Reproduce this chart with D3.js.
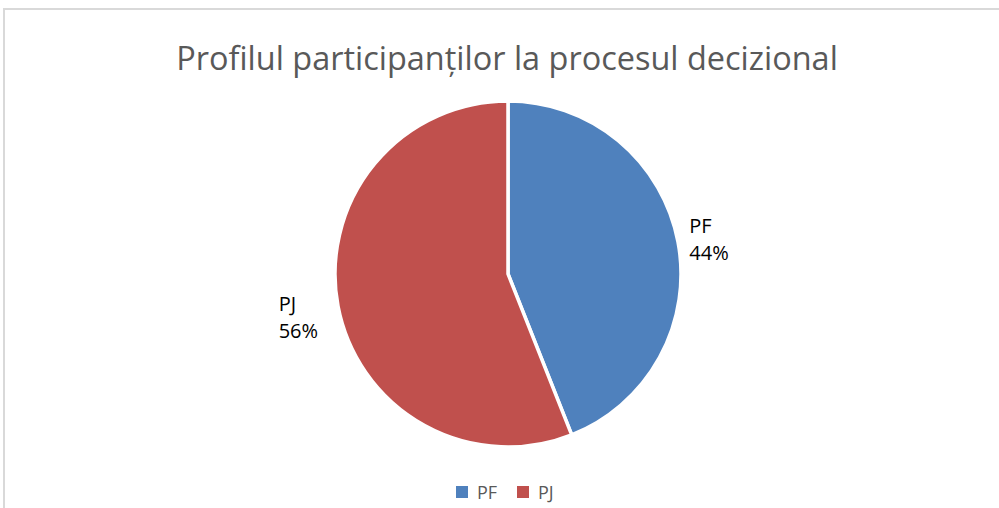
<!DOCTYPE html>
<html lang="ro">
<head>
<meta charset="UTF-8">
<title>Profilul participanților la procesul decizional</title>
<script src="https://d3js.org/d3.v7.min.js"></script>
<style>
  body { margin: 0; background: #fff; }
  svg { display: block; }
</style>
</head>
<body>
<svg id="chart" width="999" height="508"></svg>
<script>
// chart data
const categories = ["PF", "PJ"];
const values = [44, 56];
const colors = ["#4F81BD", "#C0504D"];
const title = "Profilul participanților la procesul decizional";

const svg = d3.select("#chart");
const font = "'Open Sans', 'Noto Sans', sans-serif";

// outer chart border
svg.append("rect")
  .attr("x", 4).attr("y", 9)
  .attr("width", 1000).attr("height", 520)
  .attr("fill", "#fff")
  .attr("stroke", "#d9d9d9")
  .attr("stroke-width", 2);

// title, fitted to the reference width
const titleText = svg.append("text")
  .attr("x", 507).attr("y", 70)
  .attr("text-anchor", "middle")
  .attr("font-family", font)
  .attr("font-size", 30)
  .attr("fill", "#595959")
  .text(title);
const tw = titleText.node().getComputedTextLength();
titleText.attr("font-size", 30 * 662 / tw);

// pie
const cx = 508, cy = 274, radius = 173;
const pie = d3.pie().sort(null).value(d => d);
const arc = d3.arc().innerRadius(0).outerRadius(radius);
const arcs = pie(values);

const g = svg.append("g").attr("transform", `translate(${cx},${cy})`);
g.selectAll("path")
  .data(arcs)
  .enter()
  .append("path")
  .attr("d", arc)
  .attr("fill", (d, i) => colors[i])
  .attr("stroke", "#fff")
  .attr("stroke-width", 3.5)
  .attr("stroke-linejoin", "miter");

// data labels outside the pie: category on one line, percent below
const labelArc = d3.arc().innerRadius(radius + 35).outerRadius(radius + 35);
const total = d3.sum(values);
const labels = g.selectAll(".label")
  .data(arcs)
  .enter()
  .append("g")
  .attr("class", "label")
  .attr("transform", d => {
    const mid = (d.startAngle + d.endAngle) / 2;
    const [lx, ly] = labelArc.centroid(d);
    const x = Math.sin(mid) > 0 ? lx - 23 : lx - 25;
    return `translate(${x},${ly})`;
  });
labels.append("text")
  .attr("y", -2)
  .attr("font-family", font)
  .attr("font-size", 20)
  .attr("fill", "#000")
  .text((d, i) => categories[i]);
labels.append("text")
  .attr("y", 25)
  .attr("font-family", font)
  .attr("font-size", 20)
  .attr("fill", "#000")
  .text((d, i) => Math.round(values[i] / total * 100) + "%");

// legend
const legend = svg.append("g").attr("transform", "translate(456,486)");
const item = legend.selectAll("g")
  .data(categories)
  .enter()
  .append("g")
  .attr("transform", (d, i) => `translate(${i * 61},0)`);
item.append("rect")
  .attr("width", 12).attr("height", 12)
  .attr("fill", (d, i) => colors[i]);
item.append("text")
  .attr("x", 21).attr("y", 12.5)
  .attr("font-family", font)
  .attr("font-size", 18)
  .attr("fill", "#595959")
  .text(d => d);
</script>
</body>
</html>
